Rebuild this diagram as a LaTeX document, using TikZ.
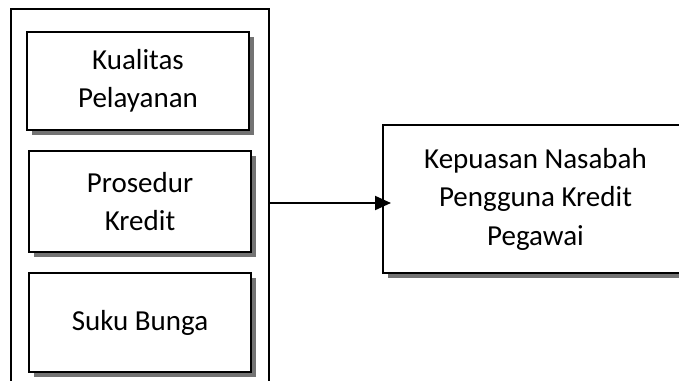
\documentclass[tikz,border=0pt]{standalone}
\usepackage{fontspec}
\setmainfont{Carlito}
\usetikzlibrary{shadows,arrows.meta}

\tikzset{
  kotak/.style={draw, line width=2pt, fill=white, align=center,
    font=\fontsize{29}{38.5}\selectfont,
    drop shadow={shadow xshift=4.5pt, shadow yshift=-4.5pt, fill=black!55, opacity=1}},
  wadah/.style={draw, line width=2pt}
}

\begin{document}
\begin{tikzpicture}[x=1pt,y=-1pt]
  % Batas gambar sesuai ukuran aslinya.
  \useasboundingbox (0,0) rectangle (679,380);
  \clip (0,0) rectangle (679,380);

  % Kotak luar yang memuat ketiga variabel bebas.
  \node[wadah, minimum width=258pt, minimum height=388pt] (grup) at (140,203) {};

  % Variabel bebas, disusun dari atas ke bawah.
  \node[kotak, minimum width=222pt, minimum height=98pt] (kualitas) at (138,81)
    {Kualitas\\Pelayanan};
  \node[kotak, minimum width=222pt, minimum height=101pt] (prosedur) at (140,201.5)
    {Prosedur\\Kredit};
  \node[kotak, minimum width=222pt, minimum height=99pt] (bunga) at (140,322.5)
    {Suku Bunga};

  % Variabel terikat di sebelah kanan.
  \node[kotak, minimum width=305pt, minimum height=148pt] (kepuasan) at (535.5,199)
    {Kepuasan Nasabah\\Pengguna Kredit\\Pegawai};

  % Panah dari kotak luar ke variabel terikat.
  \draw[line width=2pt, -{Triangle[length=16pt,width=14pt]}, shorten >=-9pt]
    (grup.east) -- (grup.east -| kepuasan.west);
\end{tikzpicture}
\end{document}
